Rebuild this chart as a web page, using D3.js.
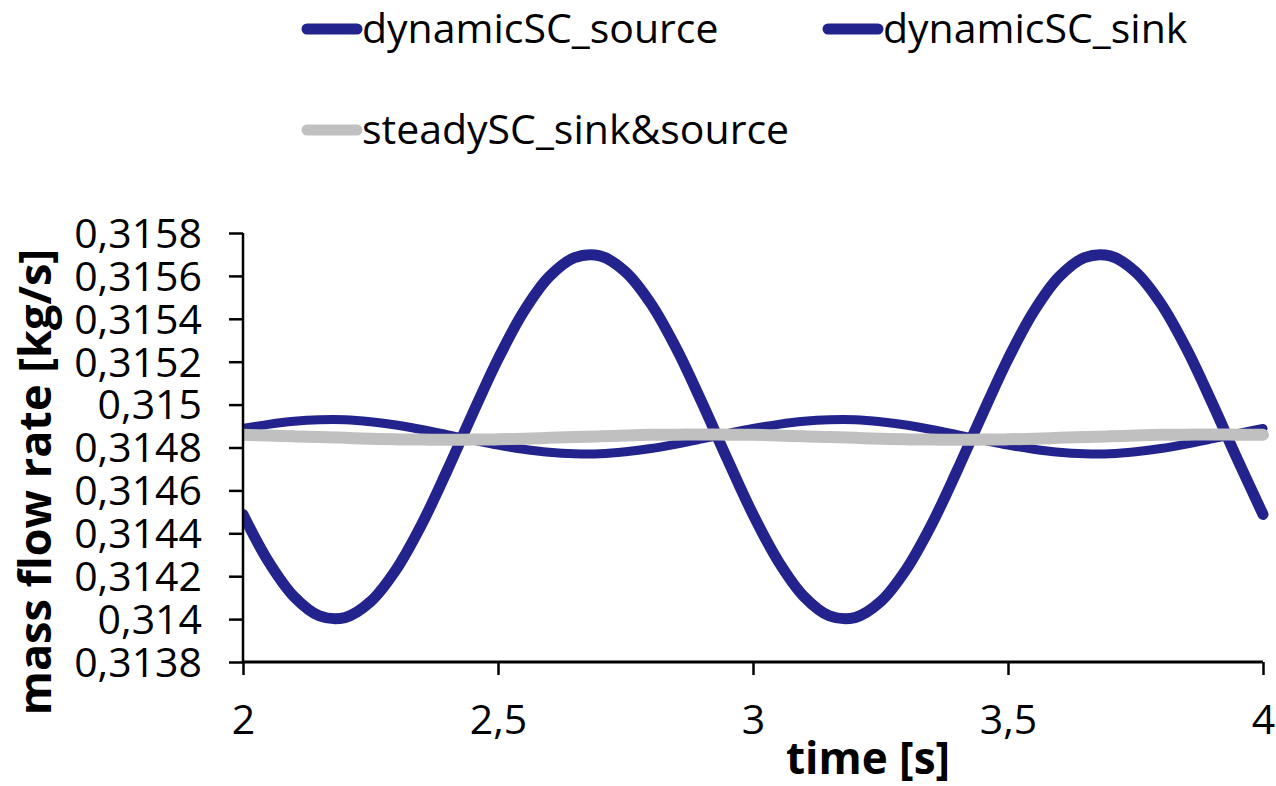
<!DOCTYPE html>
<html>
<head>
<meta charset="utf-8">
<script src="https://cdn.jsdelivr.net/npm/d3@7"></script>
<style>
  body { margin: 0; background: #fff; }
  text { font-family: "Open Sans", sans-serif; fill: #000; }
</style>
</head>
<body>
<svg id="chart" width="1276" height="786"></svg>
<script>
// time [s]
const times = [
  2.00, 2.05, 2.10, 2.15, 2.20, 2.25, 2.30, 2.35, 2.40, 2.45,
  2.50, 2.55, 2.60, 2.65, 2.70, 2.75, 2.80, 2.85, 2.90, 2.95,
  3.00, 3.05, 3.10, 3.15, 3.20, 3.25, 3.30, 3.35, 3.40, 3.45,
  3.50, 3.55, 3.60, 3.65, 3.70, 3.75, 3.80, 3.85, 3.90, 3.95,
  4.00
];

// mass flow rate [kg/s]
const sourceValues = [
  0.314488, 0.314268, 0.314105, 0.314015, 0.314007, 0.314081, 0.314230, 0.314440, 0.314691, 0.314956,
  0.315212, 0.315432, 0.315595, 0.315685, 0.315693, 0.315619, 0.315470, 0.315260, 0.315009, 0.314744,
  0.314488, 0.314268, 0.314105, 0.314015, 0.314007, 0.314081, 0.314230, 0.314440, 0.314691, 0.314956,
  0.315212, 0.315432, 0.315595, 0.315685, 0.315693, 0.315619, 0.315470, 0.315260, 0.315009, 0.314744,
  0.314488
];

const sinkValues = [
  0.314889, 0.314908, 0.314922, 0.314929, 0.314929, 0.314920, 0.314905, 0.314884, 0.314860, 0.314835,
  0.314811, 0.314792, 0.314778, 0.314771, 0.314771, 0.314780, 0.314795, 0.314816, 0.314840, 0.314865,
  0.314889, 0.314908, 0.314922, 0.314929, 0.314929, 0.314920, 0.314905, 0.314884, 0.314860, 0.314835,
  0.314811, 0.314792, 0.314778, 0.314771, 0.314771, 0.314780, 0.314795, 0.314816, 0.314840, 0.314865,
  0.314889
];

const steadyValues = [
  0.314859, 0.314856, 0.314852, 0.314849, 0.314845, 0.314841, 0.314838, 0.314837, 0.314836, 0.314837,
  0.314838, 0.314841, 0.314845, 0.314849, 0.314852, 0.314856, 0.314859, 0.314860, 0.314861, 0.314860,
  0.314859, 0.314856, 0.314852, 0.314849, 0.314845, 0.314841, 0.314838, 0.314837, 0.314836, 0.314837,
  0.314838, 0.314841, 0.314845, 0.314849, 0.314852, 0.314856, 0.314859, 0.314860, 0.314861, 0.314860,
  0.314859
];

const seriesNames = ["dynamicSC_source", "dynamicSC_sink", "steadySC_sink&source"];
const xTicks = [2, 2.5, 3, 3.5, 4];
const yTicks = [0.3138, 0.3140, 0.3142, 0.3144, 0.3146, 0.3148, 0.3150, 0.3152, 0.3154, 0.3156, 0.3158];

const blue = "#23238e";
const grey = "#c0c0c0";

let svg = d3.select("#chart");

let margin = { top: 233, right: 13, bottom: 124, left: 243 };
let width  = 1276 - margin.left - margin.right;
let height = 786 - margin.top - margin.bottom;

let x = d3.scaleLinear().domain([2, 4]).range([0, width]);
let y = d3.scaleLinear().domain([0.3138, 0.3158]).range([height, 0]);

// comma as decimal separator
let locale = d3.formatLocale({ decimal: ",", thousands: ".", grouping: [3], currency: ["", ""] });
let fmt = locale.format("~g");

let g = svg.append("g").attr("transform", `translate(${margin.left},${margin.top})`);

svg.append("defs").append("clipPath").attr("id", "plotClip")
  .append("rect").attr("x", 0).attr("y", -40).attr("width", width + 20).attr("height", height + 80);

let series = [
  { name: seriesNames[0], values: sourceValues, color: blue, width: 11 },
  { name: seriesNames[1], values: sinkValues,   color: blue, width: 9 },
  { name: seriesNames[2], values: steadyValues, color: grey, width: 12 }
];

let line = d3.line()
  .x((d, i) => x(times[i]))
  .y(d => y(d))
  .curve(d3.curveCatmullRom.alpha(0.5));

let plot = g.append("g").attr("clip-path", "url(#plotClip)");
series.forEach(s => {
  plot.append("path")
    .attr("d", line(s.values))
    .attr("fill", "none")
    .attr("stroke", s.color)
    .attr("stroke-width", s.width)
    .attr("stroke-linecap", "round")
    .attr("stroke-linejoin", "round");
});

// axes
let yAxis = g.append("g")
  .call(d3.axisLeft(y).tickValues(yTicks).tickFormat(fmt).tickSize(14).tickPadding(27));
yAxis.select(".domain").attr("stroke-width", 2.5).attr("d", `M0,${height}V0`);
yAxis.selectAll(".tick line").attr("stroke-width", 2.5);
yAxis.selectAll(".tick text").style("font-size", "41px").attr("dy", "0.35em");

let xAxis = g.append("g")
  .attr("transform", `translate(0,${height})`)
  .call(d3.axisBottom(x).tickValues(xTicks).tickFormat(fmt).tickSize(13).tickPadding(30));
xAxis.select(".domain").attr("stroke-width", 3).attr("d", `M0,0H${width}`);
xAxis.selectAll(".tick line").attr("stroke-width", 2.5);
xAxis.selectAll(".tick text").style("font-size", "41px");

// axis titles
svg.append("text")
  .attr("x", 868).attr("y", 774)
  .attr("text-anchor", "middle")
  .style("font-size", "44px").style("font-weight", "bold")
  .text("time [s]");

svg.append("text")
  .attr("transform", "translate(51,482) rotate(-90)")
  .attr("text-anchor", "middle")
  .style("font-size", "45px").style("font-weight", "bold")
  .text("mass flow rate [kg/s]");

// legend
let legendPos = [[302, 29], [823, 29], [302, 130]];
series.forEach((s, i) => {
  let [lx, ly] = legendPos[i];
  let item = svg.append("g").attr("transform", `translate(${lx},${ly})`);
  item.append("line")
    .attr("x1", 5).attr("x2", 55).attr("y1", 0).attr("y2", 0)
    .attr("stroke", s.color).attr("stroke-width", 11).attr("stroke-linecap", "round");
  item.append("text")
    .attr("x", 60).attr("y", 0).attr("dy", "0.35em")
    .style("font-size", "41px")
    .text(s.name);
});
</script>
</body>
</html>
